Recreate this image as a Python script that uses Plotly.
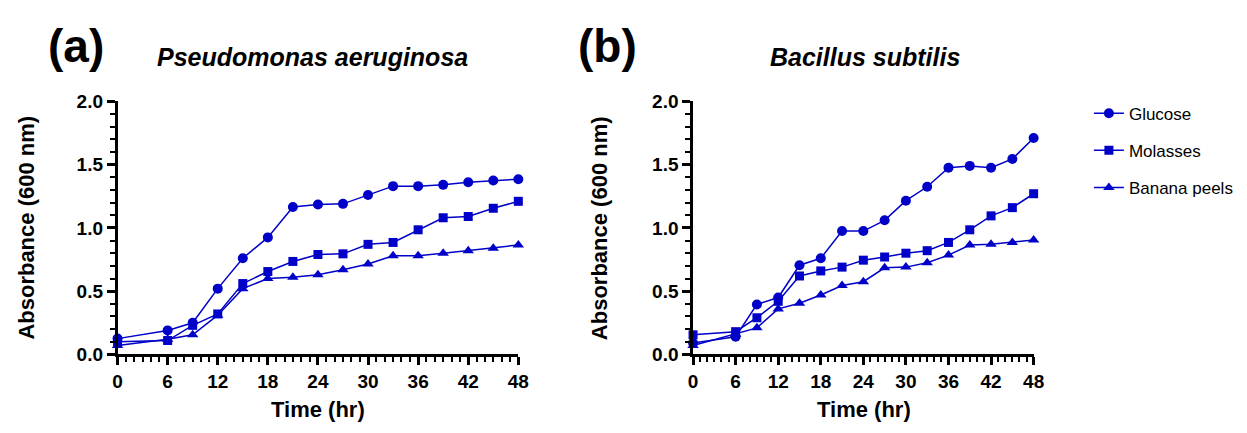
import plotly.graph_objects as go

# ---- data ----
time_hr = [0, 6, 9, 12, 15, 18, 21, 24, 27, 30, 33, 36, 39, 42, 45, 48]

pa_glucose = [0.125, 0.19, 0.25, 0.52, 0.76, 0.925, 1.165, 1.185, 1.19, 1.26, 1.33, 1.33, 1.34, 1.36, 1.375, 1.385]
pa_molasses = [0.10, 0.11, 0.23, 0.32, 0.56, 0.655, 0.735, 0.79, 0.795, 0.87, 0.885, 0.985, 1.08, 1.09, 1.155, 1.21]
pa_banana = [0.07, 0.12, 0.155, 0.31, 0.52, 0.60, 0.61, 0.63, 0.67, 0.715, 0.78, 0.78, 0.80, 0.82, 0.84, 0.865]

bs_glucose = [0.09, 0.14, 0.395, 0.45, 0.705, 0.76, 0.975, 0.975, 1.06, 1.215, 1.325, 1.475, 1.49, 1.475, 1.545, 1.71]
bs_molasses = [0.155, 0.18, 0.29, 0.42, 0.62, 0.66, 0.69, 0.745, 0.77, 0.80, 0.82, 0.885, 0.985, 1.095, 1.16, 1.27]
bs_banana = [0.07, 0.16, 0.21, 0.36, 0.405, 0.47, 0.545, 0.575, 0.685, 0.69, 0.725, 0.785, 0.865, 0.87, 0.885, 0.905]

series_names = ["Glucose", "Molasses", "Banana peels"]
series_symbols = ["circle", "square", "triangle-up"]
series_sizes = [10, 9, 10]
x_ticks = [0, 6, 12, 18, 24, 30, 36, 42, 48]
y_ticks = [0.0, 0.5, 1.0, 1.5, 2.0]

BLUE = "#0000C8"
FONT = "Liberation Sans"

fig = go.Figure()

panels = [
    ("x", "y", [pa_glucose, pa_molasses, pa_banana], True),
    ("x2", "y2", [bs_glucose, bs_molasses, bs_banana], False),
]
for xa, ya, data, show in panels:
    for name, sym, sz, vals in zip(series_names, series_symbols, series_sizes, data):
        fig.add_trace(go.Scatter(
            x=time_hr, y=vals, name=name, xaxis=xa, yaxis=ya,
            mode="lines+markers",
            line=dict(color=BLUE, width=1.5),
            marker=dict(symbol=sym, size=sz, color=BLUE),
            cliponaxis=False, showlegend=show, legendgroup=name,
        ))

W, H = 1247, 433
def px(v):
    return v / W
def py(v):
    return 1 - v / H

ydom = [py(362), py(96)]
axis_common = dict(
    showline=True, linewidth=2.5, linecolor="black",
    ticks="outside", tickwidth=2.5, ticklen=8, tickcolor="black",
    showgrid=False, zeroline=False,
    tickfont=dict(family=FONT, size=19, color="black", weight="bold"),
)
xcommon = dict(axis_common, range=[0, 48], tickvals=x_ticks,
               minor=dict(dtick=1, ticks="outside", ticklen=5, tickwidth=2, tickcolor="black"))
ycommon = dict(axis_common, range=[0, 2], tickvals=y_ticks, tickformat=".1f",
               minor=dict(dtick=0.1, ticks="outside", ticklen=5, tickwidth=2, tickcolor="black"))

fig.update_layout(
    width=W, height=H,
    margin=dict(l=0, r=0, t=0, b=0),
    paper_bgcolor="white", plot_bgcolor="white",
    xaxis=dict(xcommon, domain=[px(114), px(520)], anchor="y"),
    yaxis=dict(ycommon, domain=ydom, anchor="x"),
    xaxis2=dict(xcommon, domain=[px(697), px(1042)], anchor="y2"),
    yaxis2=dict(ycommon, domain=ydom, anchor="x2"),
    showlegend=True,
    legend=dict(
        x=px(1098), y=py(90), xanchor="left", yanchor="top",
        font=dict(family=FONT, size=17, color="black"),
        traceorder="grouped", tracegroupgap=12,
        bgcolor="rgba(0,0,0,0)",
    ),
)

ann = []
def text(x, y, s, size, bold=True, italic=False, angle=0):
    st = s
    if italic:
        st = "<i>" + st + "</i>"
    ann.append(dict(
        x=px(x), y=py(y), xref="paper", yref="paper", text=st, showarrow=False,
        xanchor="center", yanchor="middle", textangle=angle,
        font=dict(family=FONT, size=size, color="black", weight="bold" if bold else "normal"),
    ))

text(72, 38, "(a)", 46)
text(610, 38, "(b)", 46)
text(312, 49, "Pseudomonas aeruginosa", 25, italic=True)
text(871, 49, "Bacillus subtilis", 25, italic=True)
text(22, 229, "Absorbance (600 nm)", 22, angle=-90)
text(603, 229, "Absorbance (600 nm)", 22, angle=-90)
text(317, 420, "Time (hr)", 22)
text(870, 420, "Time (hr)", 22)
fig.update_layout(annotations=ann)

fig.write_html("out.html", config={"displayModeBar": False},
               post_script="document.body.style.margin='0px';")
